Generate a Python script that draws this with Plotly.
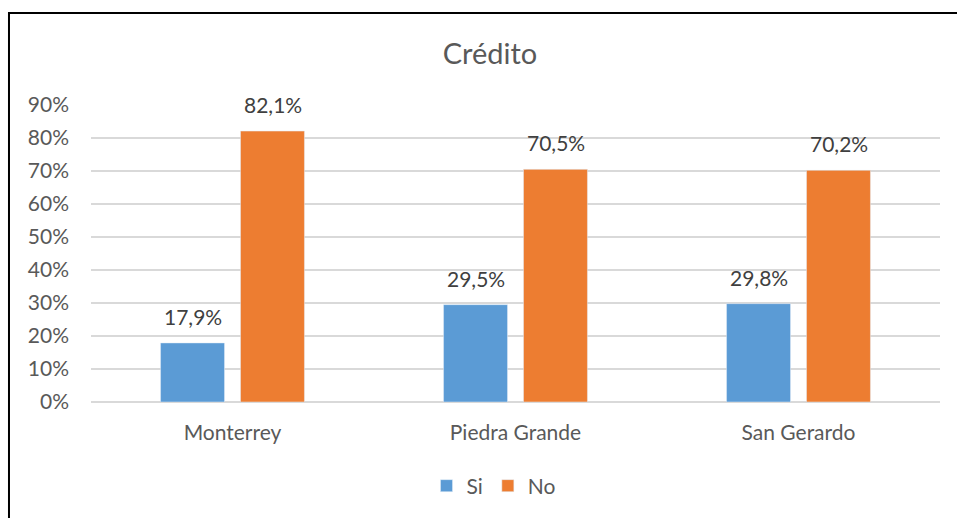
import plotly.graph_objects as go

# Survey answers on access to credit, share per community
categories = ["Monterrey", "Piedra Grande", "San Gerardo"]
si_values = [17.9, 29.5, 29.8]
no_values = [82.1, 70.5, 70.2]
y_ticks = [0, 10, 20, 30, 40, 50, 60, 70, 80, 90]

BLUE = "#5B9BD5"
ORANGE = "#ED7D31"
FONT = "Lato, 'Open Sans', sans-serif"

fig = go.Figure()
fig.add_trace(go.Bar(name="Si", x=categories, y=si_values, marker_color=BLUE,
                     hoverinfo="skip"))
fig.add_trace(go.Bar(name="No", x=categories, y=no_values, marker_color=ORANGE,
                     hoverinfo="skip"))

# value labels above each bar
def fmt(v):
    return f"{v:.1f}%".replace(".", ",")

for vals, shift in ((si_values, -40), (no_values, 40)):
    for c, v in zip(categories, vals):
        fig.add_annotation(x=c, y=v, text=fmt(v), showarrow=False,
                           xshift=shift, yshift=12, yanchor="bottom",
                           font=dict(size=21, color="#404040", family=FONT))

# chart border
fig.add_shape(type="rect", xref="paper", yref="paper",
              x0=-0.0966, x1=2.0, y0=-1.0, y1=1.3098,
              line=dict(color="black", width=2), fillcolor="rgba(0,0,0,0)",
              layer="above")

fig.update_layout(
    width=957, height=518,
    margin=dict(l=91, r=17, t=105, b=116),
    paper_bgcolor="white", plot_bgcolor="white",
    barmode="group", bargap=0.435, bargroupgap=0.2,
    title=dict(text="Crédito", x=490 / 957, xref="container", xanchor="center",
               y=1 - 54 / 518, yanchor="middle",
               font=dict(size=29, color="#595959", family=FONT)),
    font=dict(family=FONT, color="#595959", size=21),
    showlegend=True,
    legend=dict(orientation="h", x=494 / 957, xref="container", xanchor="center",
                y=1 - 486 / 518, yref="container", yanchor="middle",
                font=dict(size=21, color="#595959", family=FONT),
                itemwidth=30),
    xaxis=dict(showgrid=False, showline=False, ticks="",
               ticklabelstandoff=16,
               tickfont=dict(size=21, color="#595959")),
    yaxis=dict(range=[0, 90], tickvals=y_ticks,
               ticktext=[f"{t}%" for t in y_ticks],
               showgrid=True, gridcolor="#D9D9D9", gridwidth=1.5,
               zeroline=True, zerolinecolor="#D9D9D9", zerolinewidth=1.5,
               showline=False, ticks="", ticklabelstandoff=21,
               tickfont=dict(size=21, color="#595959")),
)

fig.write_html("out.html")
